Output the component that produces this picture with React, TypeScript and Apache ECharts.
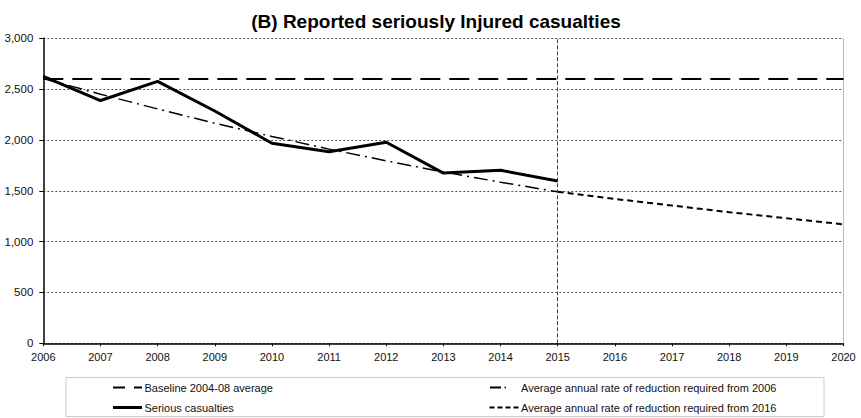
import React, { useEffect, useRef } from "react";
import * as echarts from "echarts";

const titleText = "(B) Reported seriously Injured casualties";
const years = ["2006", "2007", "2008", "2009", "2010", "2011", "2012", "2013", "2014", "2015", "2016", "2017", "2018", "2019", "2020"];
const baselineValues = [2600, 2600, 2600, 2600, 2600, 2600, 2600, 2600, 2600, 2600, 2600, 2600, 2600, 2600, 2600];
const seriousValues = [2625, 2388, 2576, 2285, 1968, 1885, 1978, 1674, 1702, 1596];
const reduction2006Values = [2605, 2450, 2305, 2165, 2035, 1910, 1795, 1685, 1585, 1490];
const reduction2016Values = [null, null, null, null, null, null, null, null, null, 1490, 1420, 1355, 1290, 1230, 1170];
const markerYear = "2015";
const seriesNames = [
  "Baseline 2004-08 average",
  "Serious casualties",
  "Average annual rate of reduction required from 2006",
  "Average annual rate of reduction required from 2016",
];

const FONT = "Liberation Sans, Arial, sans-serif";

export default function App() {
  const ref = useRef<HTMLDivElement>(null);
  useEffect(() => {
    if (!ref.current) return;
    const chart = echarts.init(ref.current, undefined, { renderer: "svg" });

    const legendText = (x: number, y: number, t: string) => ({
      type: "text",
      x,
      y,
      style: { text: t, fill: "#111", font: `11px ${FONT}`, textVerticalAlign: "middle" },
    });
    const seg = (x1: number, x2: number, y: number, w: number, dash?: number[]) => ({
      type: "line",
      shape: { x1, y1: y, x2, y2: y },
      style: { stroke: "#000", lineWidth: w, lineDash: dash },
    });

    const row1 = 387.5;
    const row2 = 407.5;

    chart.setOption({
      animation: false,
      title: {
        text: titleText,
        left: 431,
        textAlign: "center",
        top: 7,
        textStyle: { fontFamily: FONT, fontSize: 19, fontWeight: "bold", color: "#000" },
      },
      grid: { left: 43.3, right: 17.5, top: 38.3, bottom: 74.7, containLabel: false },
      xAxis: {
        type: "category",
        data: years,
        boundaryGap: false,
        axisLine: { lineStyle: { color: "#000", width: 1.5 } },
        axisTick: { show: true, length: 3, lineStyle: { color: "#000" } },
        axisLabel: { color: "#111", fontFamily: FONT, fontSize: 11, margin: 8 },
        splitLine: { show: false },
      },
      yAxis: [
        {
          type: "value",
          min: 0,
          max: 3000,
          interval: 500,
          axisLine: { show: true, lineStyle: { color: "#000", width: 1.5 } },
          axisTick: { show: true, length: 4, lineStyle: { color: "#000" } },
          axisLabel: {
            color: "#111",
            fontFamily: FONT,
            fontSize: 11.5,
            margin: 10,
            formatter: (v: number) => v.toLocaleString("en-US"),
          },
          splitLine: { show: true, lineStyle: { color: "#555", width: 1, type: [2, 2] } },
        },
        {
          type: "value",
          min: 0,
          max: 3000,
          interval: 500,
          position: "right",
          axisLine: { show: true, lineStyle: { color: "#bbb", width: 1 } },
          axisTick: { show: false },
          axisLabel: { show: false },
          splitLine: { show: false },
        },
      ],
      series: [
        {
          name: seriesNames[0],
          type: "line",
          data: baselineValues,
          showSymbol: false,
          symbol: "none",
          lineStyle: { color: "#000", width: 2, type: [20, 9] },
          z: 2,
        },
        {
          name: seriesNames[2],
          type: "line",
          data: reduction2006Values,
          showSymbol: false,
          symbol: "none",
          lineStyle: { color: "#000", width: 1.5, type: [14, 5, 2, 5] },
          z: 3,
        },
        {
          name: seriesNames[3],
          type: "line",
          data: reduction2016Values,
          showSymbol: false,
          symbol: "none",
          lineStyle: { color: "#000", width: 2, type: [6, 4] },
          z: 3,
          markLine: {
            silent: true,
            symbol: "none",
            label: { show: false },
            lineStyle: { color: "#444", width: 1, type: [4, 2] },
            data: [{ xAxis: markerYear }],
          },
        },
        {
          name: seriesNames[1],
          type: "line",
          data: seriousValues,
          showSymbol: false,
          symbol: "none",
          lineStyle: { color: "#000", width: 3 },
          z: 5,
        },
      ],
      graphic: [
        {
          type: "rect",
          shape: { x: 66, y: 377.5, width: 758, height: 39 },
          style: { fill: "#fff", stroke: "#ccc", lineWidth: 1 },
        },
        seg(113, 125, row1, 2),
        seg(134, 142, row1, 2),
        legendText(144.5, row1, seriesNames[0]),
        seg(113, 142, row2, 3),
        legendText(144.5, row2, seriesNames[1]),
        seg(490, 501, row1, 2),
        seg(504.5, 506, row1, 1.5),
        legendText(521, row1, seriesNames[2]),
        seg(489.5, 519.5, row2, 2, [5, 3]),
        legendText(521, row2, seriesNames[3]),
      ],
    });
    return () => chart.dispose();
  }, []);
  return (
    <div
      ref={ref}
      style={{ position: "fixed", left: 0, top: 0, width: 861, height: 418, background: "#fff" }}
    />
  );
}
